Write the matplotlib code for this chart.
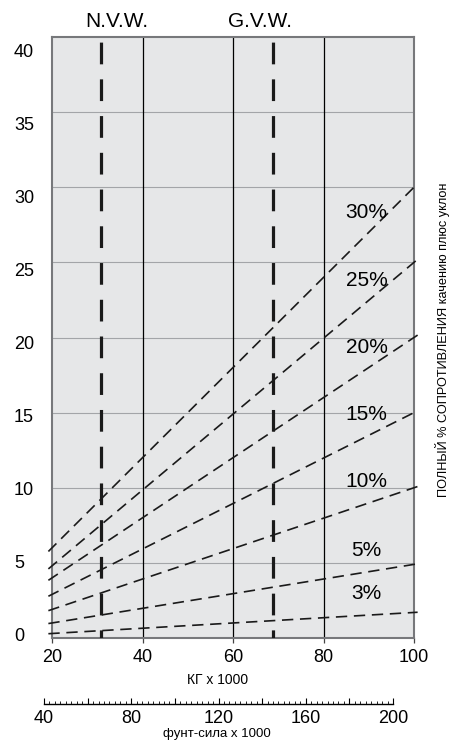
import numpy as np
import matplotlib.pyplot as plt
from matplotlib.ticker import MultipleLocator, FuncFormatter
from matplotlib.transforms import blended_transform_factory

# chart data
kg_ticks = [20, 40, 60, 80, 100]
force_ticks = [0, 5, 10, 15, 20, 25, 30, 35, 40]
grade_labels = ['30%', '25%', '20%', '15%', '10%', '5%', '3%']
grade_at_20 = [6.0, 4.8, 4.0, 2.9, 1.9, 1.0, 0.3]
grade_at_100 = [30.0, 25.0, 20.0, 15.0, 10.0, 4.9, 1.7]
nvw_kg = 30.8
gvw_kg = 68.9
lbf_ticks = [40, 80, 120, 160, 200]

plt.rcParams['font.family'] = ['Liberation Sans', 'DejaVu Sans']
narrow = ['Liberation Sans Narrow', 'Liberation Sans', 'DejaVu Sans']

W, H = 451, 745
fig = plt.figure(figsize=(W / 100, H / 100), dpi=100)

ax = fig.add_axes([52 / W, 107 / H, 362 / W, 601 / H])
ax.set_facecolor('#e6e7e8')
ax.set_xlim(kg_ticks[0], kg_ticks[-1])
ax.set_ylim(force_ticks[0], force_ticks[-1])

for v in force_ticks[1:-1]:
    ax.axhline(v, color='#a3a5a8', lw=0.8, zorder=1)
for k in kg_ticks[1:-1]:
    ax.axvline(k, color='black', lw=0.9, zorder=2)

for s in ax.spines.values():
    s.set_color('#77787b')
    s.set_linewidth(1.5)

ax.set_xticks(kg_ticks)
ax.set_yticks(force_ticks)
ax.tick_params(axis='x', length=3.6, width=0.9, color='#444444', labelsize=13, pad=4.5)
ax.tick_params(axis='y', length=0, labelleft=False)
ax.set_xlabel('КГ x 1000', fontsize=10, family=narrow)
ax.xaxis.set_label_coords(0.456, -0.058)

# grade lines
x0, x1 = kg_ticks[0], kg_ticks[-1]
ext = 0.8
for lab, a, b in zip(grade_labels, grade_at_20, grade_at_100):
    slope = (b - a) / (x1 - x0)
    xs = np.array([x0 - ext, x1 + ext])
    ax.plot(xs, a + slope * (xs - x0), color='#1a1a1a', lw=1.2,
            ls=(0, (6.8, 4.0)), dash_capstyle='butt', clip_on=False, zorder=3)
    xl = 89.5
    ax.text(xl, a + slope * (xl - x0) + 1.45, lab, fontsize=15,
            ha='center', va='center', zorder=4)

# N.V.W. / G.V.W. markers
for k in (nvw_kg, gvw_kg):
    ax.plot([k, k], [force_ticks[-1], force_ticks[0]], color='#1a1a1a', lw=2.3,
            ls=(9.9, (6.8, 4.7)), dash_capstyle='butt', zorder=3)
tr = blended_transform_factory(ax.transData, ax.transAxes)
ax.text(34.4, 1.026, 'N.V.W.', transform=tr, fontsize=15, ha='center', va='center')
ax.text(66.0, 1.026, 'G.V.W.', transform=tr, fontsize=15, ha='center', va='center')

# y labels (slightly different scale in the scanned original)
axl = fig.add_axes(ax.get_position(), frameon=False)
axl.set_ylim(-0.27, 40.9)
axl.set_yticks(force_ticks)
axl.set_xticks([])
axl.tick_params(axis='y', length=0, pad=27.4, labelsize=13)
for t in axl.get_yticklabels():
    t.set_horizontalalignment('left')

# pound-force scale
ax2 = fig.add_axes([44 / W, 41 / H, 349 / W, 0.01])
ax2.set_facecolor('none')
for side in ('left', 'right', 'top'):
    ax2.spines[side].set_visible(False)
ax2.spines['bottom'].set_linewidth(1.0)
ax2.set_xlim(lbf_ticks[0], lbf_ticks[-1])
ax2.set_yticks([])
ax2.set_xticks(np.arange(lbf_ticks[0], lbf_ticks[-1] + 1, 20))
ax2.xaxis.set_major_formatter(FuncFormatter(
    lambda v, p: str(int(v)) if int(v) in lbf_ticks else ''))
ax2.xaxis.set_minor_locator(MultipleLocator(2.5))
ax2.tick_params(which='major', direction='in', length=4.3, width=0.8,
                labelsize=13, pad=4.5)
ax2.tick_params(which='minor', direction='in', length=2.4, width=0.6)
fig.text(217 / W, 1 - 734 / H, 'фунт-сила x 1000', ha='center', va='center',
         fontsize=9.5, family=narrow)

fig.text(442 / W, 1 - 340 / H, 'ПОЛНЫЙ % СОПРОТИВЛЕНИЯ качению плюс уклон',
         rotation=90, ha='center', va='center', fontsize=9.2, family=narrow)

fig.savefig('out.png', dpi=100)
